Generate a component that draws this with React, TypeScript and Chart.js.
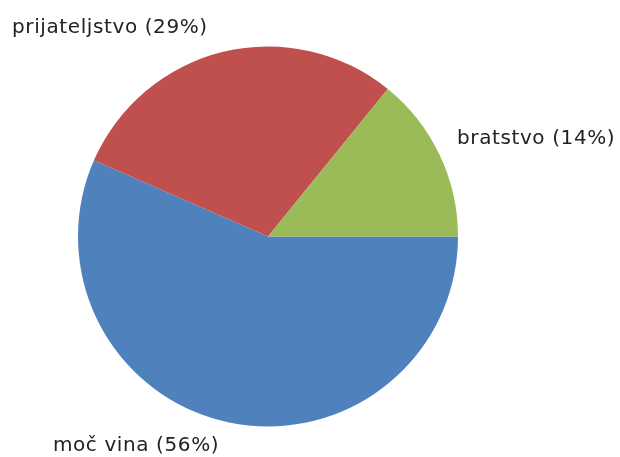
import React, { useEffect, useRef } from "react";
import { Chart, registerables } from "chart.js";

Chart.register(...registerables);

const categories = ["moč vina", "prijateljstvo", "bratstvo"];
const values = [56, 29, 14];
const percentLabels = ["56%", "29%", "14%"];
const colors = ["#4F81BD", "#C0504D", "#9BBB59"];
// label placement relative to pie centre, in units of radius (left-aligned, baseline)
const labelOffsets = [
  [-1.132, 1.129],
  [-1.347, -1.071],
  [0.995, -0.487],
];

const labelPlugin = {
  id: "outerLabels",
  afterDraw(chart: any) {
    const meta = chart.getDatasetMeta(0);
    const ctx = chart.ctx;
    ctx.save();
    ctx.font = "20px 'DejaVu Sans'";
    (ctx as any).letterSpacing = "0.6px";
    ctx.fillStyle = "#222";
    ctx.textAlign = "left";
    ctx.textBaseline = "alphabetic";
    meta.data.forEach((arc: any, i: number) => {
      const { x, y, outerRadius } = arc.getProps(["x", "y", "outerRadius"], true);
      const [ox, oy] = labelOffsets[i];
      ctx.fillText(
        `${categories[i]} (${percentLabels[i]})`,
        x + ox * outerRadius,
        y + oy * outerRadius
      );
    });
    ctx.restore();
  },
};

export default function App() {
  const ref = useRef<HTMLCanvasElement>(null);
  useEffect(() => {
    document.body.style.margin = "0";
    const chart = new Chart(ref.current!, {
      type: "pie",
      data: {
        labels: categories,
        datasets: [
          {
            data: values,
            backgroundColor: colors,
            borderWidth: 0,
          },
        ],
      },
      options: {
        animation: false,
        responsive: false,
        rotation: 90,
        layout: { padding: { left: 78, right: 162, top: 46.5, bottom: 30.5 } },
        plugins: {
          legend: { display: false },
          tooltip: { enabled: false },
        },
      },
      plugins: [labelPlugin],
    });
    return () => chart.destroy();
  }, []);
  return (
    <div style={{ width: 620, height: 457, background: "#fff" }}>
      <canvas ref={ref} width={620} height={457} />
    </div>
  );
}
